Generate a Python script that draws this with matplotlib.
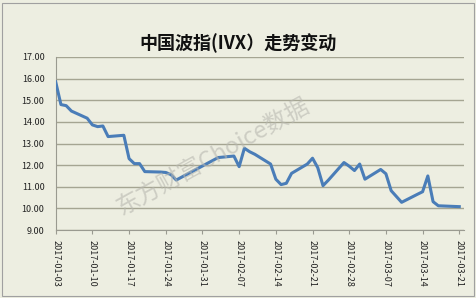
import numpy as np
import pandas as pd
import matplotlib
matplotlib.use("Agg")
import matplotlib.pyplot as plt
import matplotlib.dates as mdates
from matplotlib.patches import Rectangle

plt.rcParams['font.family'] = ['Noto Sans CJK SC', 'DejaVu Sans']

dates = ["2017-01-03", "2017-01-04", "2017-01-05", "2017-01-06",
         "2017-01-09", "2017-01-10", "2017-01-11", "2017-01-12", "2017-01-13",
         "2017-01-16", "2017-01-17", "2017-01-18", "2017-01-19", "2017-01-20",
         "2017-01-23", "2017-01-24", "2017-01-25", "2017-01-26",
         "2017-02-03",
         "2017-02-06", "2017-02-07", "2017-02-08", "2017-02-09", "2017-02-10",
         "2017-02-13", "2017-02-14", "2017-02-15", "2017-02-16", "2017-02-17",
         "2017-02-20", "2017-02-21", "2017-02-22", "2017-02-23", "2017-02-24",
         "2017-02-27", "2017-02-28", "2017-03-01", "2017-03-02", "2017-03-03",
         "2017-03-06", "2017-03-07", "2017-03-08", "2017-03-09", "2017-03-10",
         "2017-03-13", "2017-03-14", "2017-03-15", "2017-03-16", "2017-03-17",
         "2017-03-20", "2017-03-21"]
ivx = [15.85, 14.80, 14.75, 14.50,
       14.17, 13.86, 13.78, 13.81, 13.32,
       13.38, 12.30, 12.07, 12.07, 11.70,
       11.68, 11.66, 11.56, 11.31,
       12.35,
       12.42, 11.93, 12.78, 12.62, 12.50,
       12.05, 11.35, 11.10, 11.16, 11.62,
       12.05, 12.32, 11.88, 11.05, 11.30,
       12.12, 11.95, 11.75, 12.05, 11.35,
       11.80, 11.60, 10.82, 10.55, 10.28,
       10.65, 10.77, 11.50, 10.31, 10.12,
       10.09, 10.08]

tick_dates = pd.date_range("2017-01-03", "2017-03-21", freq="7D")

bg = "#EDEEE1"
fig = plt.figure(figsize=(4.77, 2.98), dpi=100, facecolor=bg)
ax = fig.add_axes([55.7 / 477, 1 - 230 / 298, (464 - 55.7) / 477, (230 - 57) / 298])
ax.set_facecolor(bg)

x = pd.to_datetime(dates)
ax.plot(x, ivx, color="#4A7DB8", linewidth=2.2, solid_joinstyle="round", zorder=3)

ax.set_ylim(9, 17)
ax.set_yticks(np.arange(9, 17.5, 1))
ax.set_yticklabels([f"{v:.2f}" for v in np.arange(9, 17.5, 1)])
ax.set_xlim(pd.Timestamp("2017-01-03"), pd.Timestamp("2017-03-21") + pd.Timedelta(days=0.9))
ax.set_xticks(tick_dates)
ax.xaxis.set_major_formatter(mdates.DateFormatter("%Y-%m-%d"))
plt.setp(ax.get_xticklabels(), rotation=270, ha="center", va="top")

ax.grid(axis="y", color="#A5A592", linewidth=1.0)
ax.set_axisbelow(True)
for s in ["top", "right"]:
    ax.spines[s].set_visible(False)
ax.spines["left"].set_color("#9A9A90")
ax.spines["bottom"].set_color("#9A9A90")
ax.tick_params(axis="both", labelsize=6.5, colors="#9A9A90", labelcolor="#222222", length=3)
ax.tick_params(axis="y", length=0, pad=8)
ax.tick_params(axis="x", direction="out", pad=4)

fig.text(0.5, 1 - 43 / 298, "中国波指(IVX）走势变动", ha="center", va="center",
         fontsize=13, fontweight="bold", color="#111111")

# watermark
fig.text(213 / 477, 1 - 157 / 298, "东方财富Choice数据", ha="center", va="center",
         fontsize=17, rotation=29, color="#B8B8B0", alpha=0.6, zorder=5)

fig.patches.append(Rectangle((2 / 477, 2 / 298), 472 / 477, 293 / 298,
                             transform=fig.transFigure, fill=False,
                             edgecolor="#A0A0A0", linewidth=0.8))

fig.savefig("out.png", dpi=100, facecolor=bg)
